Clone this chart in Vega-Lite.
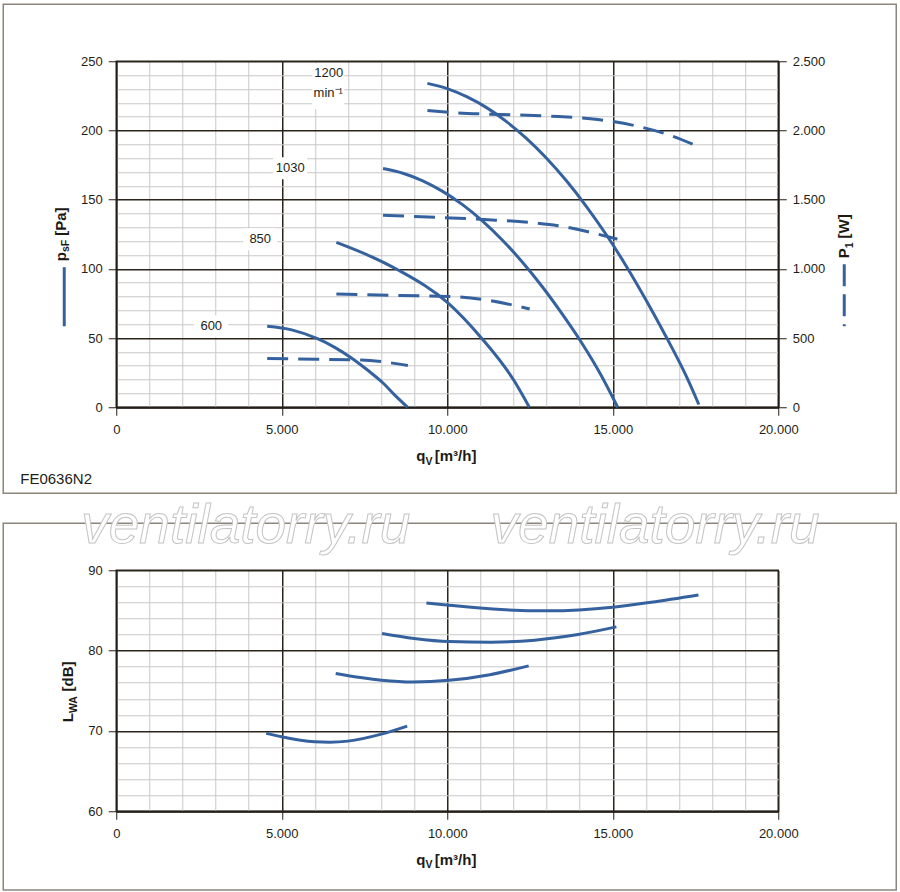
{
  "$schema": "https://vega.github.io/schema/vega-lite/v6.json",
  "background": "white",
  "padding": {"left": 1.25, "top": 2.25, "right": 0, "bottom": 0},
  "config": {
    "font": "Liberation Sans",
    "view": {"stroke": "#2a241c", "strokeWidth": 1.5},
    "axis": {"labelFont": "Liberation Sans", "labelFontSize": 13, "labelColor": "#231e18", "tickColor": "#231e18", "tickSize": 8, "tickWidth": 1, "domainColor": "#231e18", "domainWidth": 1.5, "labelPadding": 6},
    "axisX": {"labelPadding": 8, "domainWidth": 2}
  },
  "datasets": {
    "pressure": [
      {"n": "1200", "q": 9400, "p": 234}, {"n": "1200", "q": 10000, "p": 230.2}, {"n": "1200", "q": 10600, "p": 224.2}, {"n": "1200", "q": 11200, "p": 216.3}, {"n": "1200", "q": 11800, "p": 206.2}, {"n": "1200", "q": 12400, "p": 194.1}, {"n": "1200", "q": 13000, "p": 179.9}, {"n": "1200", "q": 13600, "p": 163.6}, {"n": "1200", "q": 14200, "p": 145.2}, {"n": "1200", "q": 14800, "p": 124.8}, {"n": "1200", "q": 15400, "p": 102.3}, {"n": "1200", "q": 16000, "p": 77.7}, {"n": "1200", "q": 16600, "p": 51.5}, {"n": "1200", "q": 17200, "p": 23.5}, {"n": "1200", "q": 17600, "p": 2},
      {"n": "1030", "q": 8060, "p": 172.5}, {"n": "1030", "q": 8660, "p": 169.1}, {"n": "1030", "q": 9260, "p": 163.6}, {"n": "1030", "q": 9860, "p": 156}, {"n": "1030", "q": 10460, "p": 146.4}, {"n": "1030", "q": 11060, "p": 134.7}, {"n": "1030", "q": 11660, "p": 120.9}, {"n": "1030", "q": 12260, "p": 105.1}, {"n": "1030", "q": 12860, "p": 87.4}, {"n": "1030", "q": 13460, "p": 67.8}, {"n": "1030", "q": 14060, "p": 46.6}, {"n": "1030", "q": 14660, "p": 22.6}, {"n": "1030", "q": 15150, "p": 0},
      {"n": "850", "q": 6650, "p": 119.2}, {"n": "850", "q": 7600, "p": 110}, {"n": "850", "q": 8530, "p": 99}, {"n": "850", "q": 10020, "p": 75.4}, {"n": "850", "q": 11030, "p": 50.1}, {"n": "850", "q": 12030, "p": 18.8}, {"n": "850", "q": 12480, "p": 0},
      {"n": "600", "q": 4560, "p": 58.5}, {"n": "600", "q": 5300, "p": 55.9}, {"n": "600", "q": 6080, "p": 49.5}, {"n": "600", "q": 6600, "p": 43.3}, {"n": "600", "q": 7160, "p": 34.7}, {"n": "600", "q": 7600, "p": 26.7}, {"n": "600", "q": 8060, "p": 17.5}, {"n": "600", "q": 8400, "p": 9.1}, {"n": "600", "q": 8800, "p": 0}
    ],
    "power": [
      {"n": "1200", "q": 9400, "P": 2144}, {"n": "1200", "q": 10320, "P": 2127}, {"n": "1200", "q": 11630, "P": 2115}, {"n": "1200", "q": 13140, "P": 2103}, {"n": "1200", "q": 14550, "P": 2079}, {"n": "1200", "q": 15760, "P": 2030}, {"n": "1200", "q": 16670, "P": 1970}, {"n": "1200", "q": 17620, "P": 1880},
      {"n": "1030", "q": 8060, "P": 1387}, {"n": "1030", "q": 10120, "P": 1368}, {"n": "1030", "q": 11120, "P": 1356}, {"n": "1030", "q": 12640, "P": 1332}, {"n": "1030", "q": 13340, "P": 1312}, {"n": "1030", "q": 14350, "P": 1262}, {"n": "1030", "q": 15140, "P": 1215},
      {"n": "850", "q": 6650, "P": 819}, {"n": "850", "q": 8560, "P": 808}, {"n": "850", "q": 10020, "P": 801}, {"n": "850", "q": 11030, "P": 780}, {"n": "850", "q": 12490, "P": 710},
      {"n": "600", "q": 4560, "P": 352}, {"n": "600", "q": 6040, "P": 347}, {"n": "600", "q": 7400, "P": 342}, {"n": "600", "q": 8100, "P": 327}, {"n": "600", "q": 8810, "P": 301}
    ],
    "sound": [
      {"n": "600", "q": 4530, "L": 69.7}, {"n": "600", "q": 4990, "L": 69.27}, {"n": "600", "q": 5990, "L": 68.65}, {"n": "600", "q": 6450, "L": 68.6}, {"n": "600", "q": 7000, "L": 68.73}, {"n": "600", "q": 8010, "L": 69.6}, {"n": "600", "q": 8790, "L": 70.6},
      {"n": "850", "q": 6630, "L": 77.15}, {"n": "850", "q": 8010, "L": 76.32}, {"n": "850", "q": 8960, "L": 76.1}, {"n": "850", "q": 10050, "L": 76.3}, {"n": "850", "q": 11290, "L": 77.0}, {"n": "850", "q": 12460, "L": 78.1},
      {"n": "1030", "q": 8030, "L": 82.12}, {"n": "1030", "q": 9000, "L": 81.5}, {"n": "1030", "q": 10050, "L": 81.12}, {"n": "1030", "q": 11330, "L": 81.05}, {"n": "1030", "q": 12640, "L": 81.3}, {"n": "1030", "q": 13950, "L": 82.0}, {"n": "1030", "q": 15110, "L": 82.95},
      {"n": "1200", "q": 9370, "L": 85.93}, {"n": "1200", "q": 10050, "L": 85.65}, {"n": "1200", "q": 11630, "L": 85.1}, {"n": "1200", "q": 13040, "L": 84.95}, {"n": "1200", "q": 15000, "L": 85.4}, {"n": "1200", "q": 16160, "L": 86.02}, {"n": "1200", "q": 17590, "L": 86.93}
    ],
    "labels": [
      {"t": "1200", "q": 6420, "p": 241.3},
      {"t": "min⁻¹", "q": 6405, "p": 226.9},
      {"t": "1030", "q": 5257, "p": 172.7},
      {"t": "850", "q": 4350, "p": 121.4},
      {"t": "600", "q": 2870, "p": 58.5}
    ]
  },
  "vconcat": [
    {
      "width": 662,
      "height": 346,
      "resolve": {"scale": {"y": "independent"}, "axis": {"x": "independent", "y": "independent"}},
      "layer": [
        {
          "resolve": {"axis": {"x": "independent", "y": "independent"}},
          "layer": [
            {
              "data": {"name": "pressure"},
              "mark": {"type": "line", "interpolate": "monotone", "color": "#35629e", "strokeWidth": 3},
              "encoding": {
                "x": {
                  "field": "q", "type": "quantitative",
                  "scale": {"domain": [0, 20000], "nice": false, "zero": false},
                  "axis": {
                    "orient": "bottom",
                    "values": [0,1000,2000,3000,4000,5000,6000,7000,8000,9000,10000,11000,12000,13000,14000,15000,16000,17000,18000,19000,20000],
                    "grid": true,
                    "gridColor": {"condition": {"test": "datum.value % 5000 === 0", "value": "#2a241c"}, "value": "#c8c8c8"},
                    "gridWidth": {"condition": {"test": "datum.value % 5000 === 0", "value": 1.5}, "value": 1},
                    "tickOpacity": {"condition": {"test": "datum.value % 5000 === 0", "value": 1}, "value": 0},
                    "labelExpr": "datum.value % 5000 === 0 ? replace(format(datum.value, ','), ',', '.') : ''",
                    "labelOverlap": false, "labelFlush": false, "title": null
                  }
                },
                "y": {
                  "field": "p", "type": "quantitative",
                  "scale": {"domain": [0, 250], "nice": false},
                  "axis": {
                    "orient": "left",
                    "values": [0,10,20,30,40,50,60,70,80,90,100,110,120,130,140,150,160,170,180,190,200,210,220,230,240,250],
                    "grid": true,
                    "gridColor": {"condition": {"test": "datum.value % 50 === 0", "value": "#2a241c"}, "value": "#c8c8c8"},
                    "gridWidth": {"condition": {"test": "datum.value % 50 === 0", "value": 1.5}, "value": 1},
                    "tickOpacity": {"condition": {"test": "datum.value % 50 === 0", "value": 1}, "value": 0},
                    "labelExpr": "datum.value % 50 === 0 ? datum.label : ''",
                    "labelOverlap": false, "labelFlush": false, "title": null
                  }
                },
                "detail": {"field": "n"}
              }
            },
            {
              "data": {"values": [{}]},
              "mark": {"type": "rect", "filled": false, "stroke": "#8c867c", "strokeWidth": 1.5},
              "encoding": {
                "x": {"datum": -3414, "axis": null}, "x2": {"datum": 23565},
                "y": {"datum": 291.2, "axis": null}, "y2": {"datum": -62.1}
              }
            },
            {
              "data": {"name": "labels"},
              "transform": [{"filter": {"field": "t", "oneOf": ["1030", "850", "600"]}}],
              "mark": {"type": "point", "shape": "M-1,-0.65L1,-0.65L1,0.65L-1,0.65Z", "size": 1156, "filled": true, "fill": "#ffffff", "strokeWidth": 0, "opacity": 1},
              "encoding": {
                "x": {"field": "q", "type": "quantitative", "axis": null},
                "y": {"field": "p", "type": "quantitative", "axis": null}
              }
            },
            {
              "data": {"values": [{}]},
              "mark": {"type": "point", "shape": "M-1,-1.44L1,-1.44L1,1.44L-1,1.44Z", "size": 1024, "filled": true, "fill": "#ffffff", "strokeWidth": 0, "opacity": 1},
              "encoding": {"x": {"datum": 6405, "axis": null}, "y": {"datum": 231.9, "axis": null}}
            },
            {
              "data": {"name": "labels"},
              "mark": {"type": "text", "fontSize": 13, "color": "#231e18", "align": "center", "baseline": "middle"},
              "encoding": {
                "x": {"field": "q", "type": "quantitative", "axis": null},
                "y": {"field": "p", "type": "quantitative", "axis": null},
                "text": {"field": "t"}
              }
            },
            {
              "data": {"values": [{}]},
              "mark": {"type": "rule", "color": "#35629e", "strokeWidth": 3},
              "encoding": {"x": {"datum": -1571, "axis": null}, "y": {"datum": 101.2, "axis": null}, "y2": {"datum": 58.5}}
            },
            {
              "data": {"values": [{}]},
              "mark": {"type": "rule", "color": "#35629e", "strokeWidth": 3, "strokeDash": [22, 8]},
              "encoding": {"x": {"datum": 21994, "axis": null}, "y": {"datum": 103.3, "axis": null}, "y2": {"datum": 58.5}}
            },
            {
              "data": {"values": [{}]},
              "mark": {"type": "text", "text": "p", "angle": 270, "align": "left", "baseline": "alphabetic", "fontSize": 15, "fontWeight": "bold", "color": "#1d1a16"},
              "encoding": {"x": {"datum": -1526, "axis": null}, "y": {"datum": 105.5, "axis": null}}
            },
            {
              "data": {"values": [{}]},
              "mark": {"type": "text", "text": "sF", "angle": 270, "align": "left", "baseline": "alphabetic", "fontSize": 10.5, "fontWeight": "bold", "color": "#1d1a16", "dx": 9.2, "dy": 3.5},
              "encoding": {"x": {"datum": -1526, "axis": null}, "y": {"datum": 105.5, "axis": null}}
            },
            {
              "data": {"values": [{}]},
              "mark": {"type": "text", "text": "[Pa]", "angle": 270, "align": "left", "baseline": "alphabetic", "fontSize": 15, "fontWeight": "bold", "color": "#1d1a16", "dx": 25.5},
              "encoding": {"x": {"datum": -1526, "axis": null}, "y": {"datum": 105.5, "axis": null}}
            },
            {
              "data": {"values": [{}]},
              "mark": {"type": "text", "text": "P", "angle": 270, "align": "left", "baseline": "alphabetic", "fontSize": 15, "fontWeight": "bold", "color": "#1d1a16"},
              "encoding": {"x": {"datum": 22145, "axis": null}, "y": {"datum": 107.7, "axis": null}}
            },
            {
              "data": {"values": [{}]},
              "mark": {"type": "text", "text": "1", "angle": 270, "align": "left", "baseline": "alphabetic", "fontSize": 10.5, "fontWeight": "bold", "color": "#1d1a16", "dx": 10, "dy": 3.5},
              "encoding": {"x": {"datum": 22145, "axis": null}, "y": {"datum": 107.7, "axis": null}}
            },
            {
              "data": {"values": [{}]},
              "mark": {"type": "text", "text": "[W]", "angle": 270, "align": "left", "baseline": "alphabetic", "fontSize": 15, "fontWeight": "bold", "color": "#1d1a16", "dx": 19.8},
              "encoding": {"x": {"datum": 22145, "axis": null}, "y": {"datum": 107.7, "axis": null}}
            },
            {
              "data": {"values": [{}]},
              "mark": {"type": "text", "text": "q", "align": "left", "baseline": "alphabetic", "fontSize": 15, "fontWeight": "bold", "color": "#1d1a16"},
              "encoding": {"x": {"datum": 9063, "axis": null}, "y": {"datum": -39.0, "axis": null}}
            },
            {
              "data": {"values": [{}]},
              "mark": {"type": "text", "text": "V", "align": "left", "baseline": "alphabetic", "fontSize": 10.5, "fontWeight": "bold", "color": "#1d1a16", "dx": 9.2, "dy": 3.5},
              "encoding": {"x": {"datum": 9063, "axis": null}, "y": {"datum": -39.0, "axis": null}}
            },
            {
              "data": {"values": [{}]},
              "mark": {"type": "text", "text": "[m³/h]", "align": "left", "baseline": "alphabetic", "fontSize": 15, "fontWeight": "bold", "color": "#1d1a16", "dx": 18.5},
              "encoding": {"x": {"datum": 9063, "axis": null}, "y": {"datum": -39.0, "axis": null}}
            },
            {
              "data": {"values": [{}]},
              "mark": {"type": "text", "text": "FE0636N2", "align": "left", "baseline": "alphabetic", "fontSize": 15, "color": "#231e18"},
              "encoding": {"x": {"datum": -2900, "axis": null}, "y": {"datum": -55.6, "axis": null}}
            }
          ]
        },
        {
          "data": {"name": "power"},
          "mark": {"type": "line", "interpolate": "monotone", "color": "#35629e", "strokeWidth": 3, "strokeDash": [21, 10]},
          "encoding": {
            "x": {"field": "q", "type": "quantitative", "axis": null},
            "y": {
              "field": "P", "type": "quantitative",
              "scale": {"domain": [0, 2500], "nice": false},
              "axis": {"orient": "right", "values": [0, 500, 1000, 1500, 2000, 2500], "grid": false, "labelExpr": "replace(format(datum.value, ','), ',', '.')", "title": null}
            },
            "detail": {"field": "n"}
          }
        }
      ]
    },
    {
      "width": 662,
      "height": 241,
      "resolve": {"axis": {"x": "independent", "y": "independent"}},
      "layer": [
        {
          "data": {"name": "sound"},
          "mark": {"type": "line", "interpolate": "monotone", "color": "#35629e", "strokeWidth": 3},
          "encoding": {
            "x": {
              "field": "q", "type": "quantitative",
              "scale": {"domain": [0, 20000], "nice": false, "zero": false},
              "axis": {
                "orient": "bottom",
                "values": [0,1000,2000,3000,4000,5000,6000,7000,8000,9000,10000,11000,12000,13000,14000,15000,16000,17000,18000,19000,20000],
                "grid": true,
                "gridColor": {"condition": {"test": "datum.value % 5000 === 0", "value": "#2a241c"}, "value": "#c8c8c8"},
                "gridWidth": {"condition": {"test": "datum.value % 5000 === 0", "value": 1.5}, "value": 1},
                "tickOpacity": {"condition": {"test": "datum.value % 5000 === 0", "value": 1}, "value": 0},
                "labelExpr": "datum.value % 5000 === 0 ? replace(format(datum.value, ','), ',', '.') : ''",
                "labelOverlap": false, "labelFlush": false, "title": null
              }
            },
            "y": {
              "field": "L", "type": "quantitative",
              "scale": {"domain": [60, 90], "nice": false, "zero": false},
              "axis": {
                "orient": "left",
                "values": [60,62,64,66,68,70,72,74,76,78,80,82,84,86,88,90],
                "grid": true,
                "gridColor": {"condition": {"test": "datum.value % 10 === 0", "value": "#2a241c"}, "value": "#c8c8c8"},
                "gridWidth": {"condition": {"test": "datum.value % 10 === 0", "value": 1.5}, "value": 1},
                "tickOpacity": {"condition": {"test": "datum.value % 10 === 0", "value": 1}, "value": 0},
                "labelExpr": "datum.value % 10 === 0 ? datum.label : ''",
                "labelOverlap": false, "labelFlush": false, "title": null
              }
            },
            "detail": {"field": "n"}
          }
        },
        {
          "data": {"values": [{}]},
          "mark": {"type": "rect", "filled": false, "stroke": "#8c867c", "strokeWidth": 1.5},
          "encoding": {
            "x": {"datum": -3414, "axis": null}, "x2": {"datum": 23565},
            "y": {"datum": 95.85, "axis": null}, "y2": {"datum": 50.2}
          }
        },
        {
          "data": {"values": [{}]},
          "mark": {"type": "text", "text": "ventilatorry.ru", "align": "left", "baseline": "alphabetic", "fontSize": 55, "fontStyle": "italic", "fill": "#ffffff", "stroke": "#c4c4c4", "strokeWidth": 1},
          "encoding": {"x": {"datum": -1057, "axis": null}, "y": {"datum": 93.4, "axis": null}}
        },
        {
          "data": {"values": [{}]},
          "mark": {"type": "text", "text": "ventilatorry.ru", "align": "left", "baseline": "alphabetic", "fontSize": 55, "fontStyle": "italic", "fill": "#ffffff", "stroke": "#c4c4c4", "strokeWidth": 1},
          "encoding": {"x": {"datum": 11308, "axis": null}, "y": {"datum": 93.4, "axis": null}}
        },
        {
          "data": {"values": [{}]},
          "mark": {"type": "text", "text": "L", "angle": 270, "align": "left", "baseline": "alphabetic", "fontSize": 15, "fontWeight": "bold", "color": "#1d1a16"},
          "encoding": {"x": {"datum": -1299, "axis": null}, "y": {"datum": 71.09, "axis": null}}
        },
        {
          "data": {"values": [{}]},
          "mark": {"type": "text", "text": "WA", "angle": 270, "align": "left", "baseline": "alphabetic", "fontSize": 10.5, "fontWeight": "bold", "color": "#1d1a16", "dx": 9.2, "dy": 3.5},
          "encoding": {"x": {"datum": -1299, "axis": null}, "y": {"datum": 71.09, "axis": null}}
        },
        {
          "data": {"values": [{}]},
          "mark": {"type": "text", "text": "[dB]", "angle": 270, "align": "left", "baseline": "alphabetic", "fontSize": 15, "fontWeight": "bold", "color": "#1d1a16", "dx": 30.7},
          "encoding": {"x": {"datum": -1299, "axis": null}, "y": {"datum": 71.09, "axis": null}}
        },
        {
          "data": {"values": [{}]},
          "mark": {"type": "text", "text": "q", "align": "left", "baseline": "alphabetic", "fontSize": 15, "fontWeight": "bold", "color": "#1d1a16"},
          "encoding": {"x": {"datum": 9063, "axis": null}, "y": {"datum": 53.31, "axis": null}}
        },
        {
          "data": {"values": [{}]},
          "mark": {"type": "text", "text": "V", "align": "left", "baseline": "alphabetic", "fontSize": 10.5, "fontWeight": "bold", "color": "#1d1a16", "dx": 9.2, "dy": 3.5},
          "encoding": {"x": {"datum": 9063, "axis": null}, "y": {"datum": 53.31, "axis": null}}
        },
        {
          "data": {"values": [{}]},
          "mark": {"type": "text", "text": "[m³/h]", "align": "left", "baseline": "alphabetic", "fontSize": 15, "fontWeight": "bold", "color": "#1d1a16", "dx": 18.5},
          "encoding": {"x": {"datum": 9063, "axis": null}, "y": {"datum": 53.31, "axis": null}}
        }
      ]
    }
  ],
  "spacing": 163,
  "bounds": "flush"
}
